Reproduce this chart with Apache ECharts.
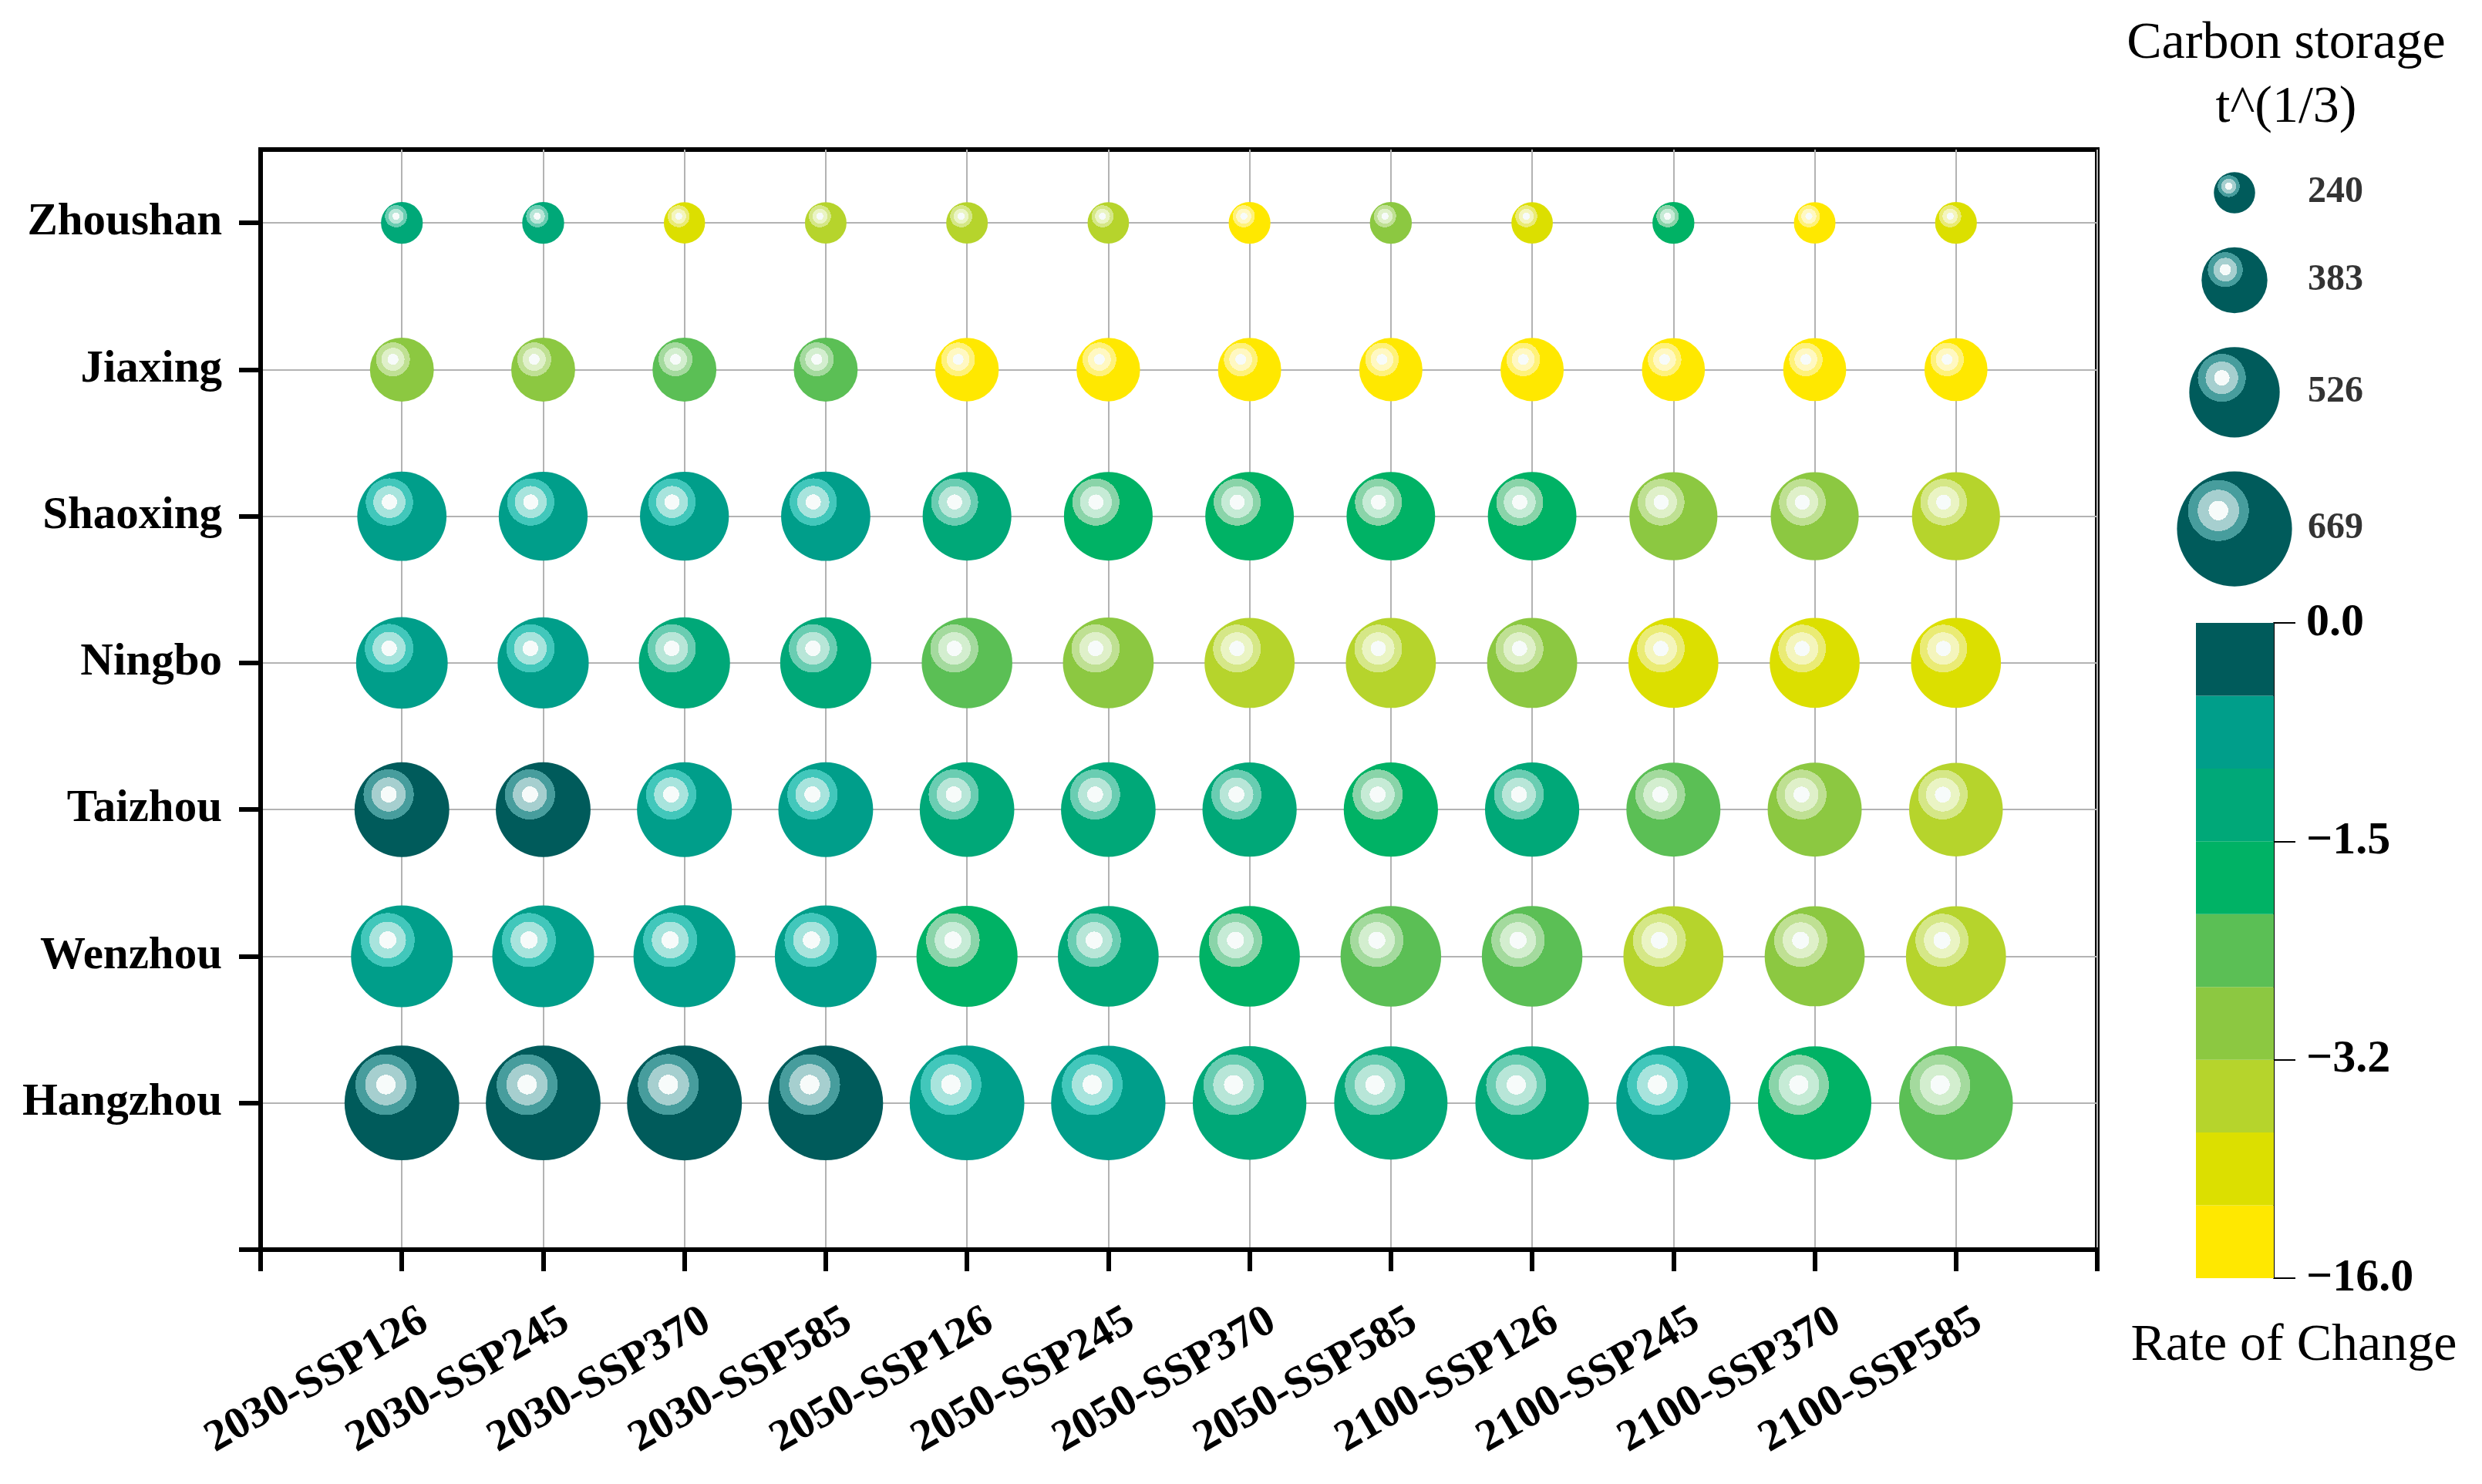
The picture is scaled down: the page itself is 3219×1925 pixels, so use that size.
<!DOCTYPE html>
<html>
<head>
<meta charset="utf-8">
<title>Carbon storage and rate of change</title>
<script src="https://cdn.jsdelivr.net/npm/echarts@6/dist/echarts.min.js"></script>
<style>
  html, body { margin: 0; padding: 0; background: #fff; }
  #main { width: 3219px; height: 1925px; }
</style>
</head>
<body>
<div id="main"></div>
<script>
var scenarios = ['2030-SSP126', '2030-SSP245', '2030-SSP370', '2030-SSP585',
                 '2050-SSP126', '2050-SSP245', '2050-SSP370', '2050-SSP585',
                 '2100-SSP126', '2100-SSP245', '2100-SSP370', '2100-SSP585'];
// bottom to top
var cities = ['Hangzhou', 'Wenzhou', 'Taizhou', 'Ningbo', 'Shaoxing', 'Jiaxing', 'Zhoushan'];

// carbon storage, t^(1/3)
var storageHangzhou = [667, 667, 668, 667, 667, 665, 661, 659, 660, 664, 659, 662];
var storageWenzhou  = [592, 592, 593, 592, 588, 586, 585, 585, 585, 582, 582, 582];
var storageTaizhou  = [551, 551, 552, 551, 550, 550, 548, 548, 548, 547, 547, 545];
var storageNingbo   = [533, 530, 530, 530, 527, 528, 524, 524, 524, 523, 523, 523];
var storageShaoxing = [519, 517, 517, 519, 516, 516, 515, 515, 515, 512, 512, 512];
var storageJiaxing  = [372, 372, 372, 372, 370, 370, 368, 368, 368, 367, 367, 367];
var storageZhoushan = [243, 244, 240, 242, 242, 241, 243, 244, 241, 244, 242, 243];

// rate of change (%)
var rateHangzhou = [-0.21, -0.28, -0.33, -0.41, -0.72, -0.86, -1.12, -1.24, -1.31, -0.94, -1.68, -2.25];
var rateWenzhou  = [-0.62, -0.69, -0.78, -0.83, -1.71, -1.38, -1.86, -2.21, -2.48, -4.05, -2.96, -3.74];
var rateTaizhou  = [-0.35, -0.46, -0.64, -0.77, -1.05, -1.19, -1.33, -1.62, -1.44, -2.31, -2.84, -3.52];
var rateNingbo   = [-0.81, -0.92, -1.08, -1.27, -2.19, -2.78, -3.41, -3.96, -3.08, -8.12, -9.34, -10.6];
var rateShaoxing = [-0.58, -0.66, -0.74, -0.88, -1.36, -1.58, -1.77, -1.93, -1.84, -2.72, -3.01, -3.63];
var rateJiaxing  = [-2.91, -3.12, -2.42, -2.56, -12.4, -13.1, -13.8, -14.2, -12.9, -14.7, -15.3, -15.8];
var rateZhoushan = [-1.18, -1.26, -8.45, -4.62, -5.18, -5.74, -12.6, -2.88, -9.12, -1.64, -13.5, -10.1];

var storage = [storageHangzhou, storageWenzhou, storageTaizhou, storageNingbo, storageShaoxing, storageJiaxing, storageZhoushan];
var rate = [rateHangzhou, rateWenzhou, rateTaizhou, rateNingbo, rateShaoxing, rateJiaxing, rateZhoushan];

var sizeLegend = [240, 383, 526, 669];
// colour bin edges, top of colour bar first
var rateBreaks = [0, -0.5, -1.0, -1.5, -2.067, -2.633, -3.2, -7.467, -11.733, -16.0];
var rateTicks = [0, 3, 6, 9];   // indexes into rateBreaks that get a label

// styles
var FONT = "'Liberation Serif', 'Times New Roman', serif";
var SIZE_SCALE = 0.223;
var binColors = ['#005b5b', '#009e8a', '#00a878', '#00b265', '#5bbf55', '#8cc841', '#b6d42c', '#dcdf00', '#ffe800'];
var ringMid   = ['#479d9d', '#42c7bb', '#6acdb2', '#8ad4a9', '#a4da9e', '#bfe093', '#d5e787', '#eaeb75', '#fff27a'];
var ringLight = ['#a6cfcf', '#a8e4dd', '#b8e6d8', '#c6ebd6', '#d3eecf', '#dff0c9', '#eaf4c4', '#f4f5bd', '#fff8c2'];
var CORE = '#f7fbfa';

function binOf(r) {
    for (var i = 0; i < binColors.length; i++) {
        if (r > rateBreaks[i + 1]) return i;
    }
    return binColors.length - 1;
}

function ball(b) {
    return {
        type: 'radial', x: 0.36, y: 0.34, r: 0.5,
        colorStops: [
            { offset: 0, color: CORE }, { offset: 0.17, color: CORE },
            { offset: 0.17, color: ringLight[b] }, { offset: 0.36, color: ringLight[b] },
            { offset: 0.36, color: ringMid[b] }, { offset: 0.53, color: ringMid[b] },
            { offset: 0.53, color: binColors[b] }, { offset: 1, color: binColors[b] }
        ]
    };
}

var bubbles = [];
for (var i = 0; i < cities.length; i++) {
    for (var j = 0; j < scenarios.length; j++) {
        bubbles.push({
            value: [j + 1, i + 1, storage[i][j], rate[i][j]],
            itemStyle: { color: ball(binOf(rate[i][j])), opacity: 1 }
        });
    }
}

// size legend, stacked downwards with a fixed gap
var LEGEND_TOP = 250, LEGEND_GAP = 44;
var legendBubbles = [], legendLabels = [];
var yPos = LEGEND_TOP;
for (var k = 0; k < sizeLegend.length; k++) {
    if (k > 0) {
        yPos += (sizeLegend[k - 1] + sizeLegend[k]) * SIZE_SCALE / 2 + LEGEND_GAP;
    }
    legendBubbles.push({ value: [0.5, yPos, sizeLegend[k]], itemStyle: { color: ball(0), opacity: 1 } });
    legendLabels.push([0.95, yPos, sizeLegend[k]]);
}

// colour bar, drawn bottom up as stacked bars
var barSeries = [];
for (var b = binColors.length - 1; b >= 0; b--) {
    barSeries.push({
        type: 'bar', xAxisIndex: 2, yAxisIndex: 2, stack: 'cb',
        data: [1], barWidth: '100%', silent: true,
        itemStyle: { color: binColors[b], opacity: 1 }
    });
}

var chart = echarts.init(document.getElementById('main'));
var option = {
    backgroundColor: '#fff',
    animation: false,
    textStyle: { fontFamily: FONT },
    grid: [
        { left: 338, top: 194, width: 2382, height: 1427, show: true, borderColor: '#000', borderWidth: 6 },
        { left: 2798, top: 0, width: 200, height: 1925 },
        { left: 2848, top: 808, width: 101, height: 850 }
    ],
    xAxis: [
        {
            type: 'value', gridIndex: 0, min: 0, max: scenarios.length + 1, interval: 1,
            axisLine: { show: true, lineStyle: { color: '#000', width: 6 } },
            axisTick: { show: true, length: 28, lineStyle: { color: '#000', width: 6 } },
            axisLabel: {
                rotate: 30, margin: 106, color: '#000', fontSize: 58, fontWeight: 'bold', fontFamily: FONT,
                padding: [0, -34, 0, 0],
                formatter: function (v) { return scenarios[v - 1] || ''; }
            },
            splitLine: { show: true, lineStyle: { color: '#b3b3b3', width: 2 } }
        },
        { type: 'value', gridIndex: 1, min: 0, max: 1, show: false },
        { type: 'category', gridIndex: 2, data: [''], show: false }
    ],
    yAxis: [
        {
            type: 'value', gridIndex: 0, min: 0, max: 7.5,
            axisLine: { show: true, lineStyle: { color: '#000', width: 6 } },
            axisTick: { show: true, length: 28, customValues: [0, 1, 2, 3, 4, 5, 6, 7], lineStyle: { color: '#000', width: 6 } },
            axisLabel: {
                margin: 50, color: '#000', fontSize: 59, fontWeight: 'bold', fontFamily: FONT,
                customValues: [0, 1, 2, 3, 4, 5, 6, 7],
                formatter: function (v) { return cities[v - 1] || ''; }
            },
            splitLine: { show: true, lineStyle: { color: '#b3b3b3', width: 2 } }
        },
        { type: 'value', gridIndex: 1, min: 0, max: 1925, inverse: true, show: false },
        {
            type: 'value', gridIndex: 2, position: 'right', min: 0, max: binColors.length, interval: 3,
            axisLine: { show: true, lineStyle: { color: '#000', width: 2 } },
            axisTick: { show: true, length: 28, lineStyle: { color: '#000', width: 2 } },
            axisLabel: {
                margin: 42, color: '#000', fontSize: 60, fontWeight: 'bold', fontFamily: FONT,
                formatter: function (v) {
                    var idx = binColors.length - v;
                    if (rateTicks.indexOf(idx) < 0) return '';
                    return rateBreaks[idx].toFixed(1).replace('-', '\u2212');
                }
            },
            splitLine: { show: false }
        }
    ],
    series: [
        {
            type: 'scatter', xAxisIndex: 0, yAxisIndex: 0,
            symbol: 'circle',
            symbolSize: function (v) { return v[2] * SIZE_SCALE; },
            itemStyle: { opacity: 1 },
            data: bubbles,
            z: 5
        },
        {
            type: 'scatter', xAxisIndex: 1, yAxisIndex: 1,
            symbol: 'circle',
            symbolSize: function (v) { return v[2] * SIZE_SCALE; },
            itemStyle: { opacity: 1 },
            data: legendBubbles, silent: true
        },
        {
            type: 'scatter', xAxisIndex: 1, yAxisIndex: 1,
            symbolSize: 0, data: legendLabels, silent: true,
            label: {
                show: true, position: 'right', distance: 5,
                color: '#000', fontSize: 48, fontWeight: 'bold', fontFamily: FONT,
                formatter: function (p) { return String(p.value[2]); }
            }
        }
    ].concat(barSeries),
    graphic: [
        { type: 'text', x: 2965, y: 57, style: { text: 'Carbon storage', fill: '#000', font: '68px ' + FONT, textAlign: 'center', textVerticalAlign: 'middle' } },
        { type: 'text', x: 2965, y: 140, style: { text: 't^(1/3)', fill: '#000', font: '68px ' + FONT, textAlign: 'center', textVerticalAlign: 'middle' } },
        { type: 'text', x: 2975, y: 1746, style: { text: 'Rate of Change', fill: '#000', font: '68px ' + FONT, textAlign: 'center', textVerticalAlign: 'middle' } }
    ]
};
chart.setOption(option);
</script>
</body>
</html>
